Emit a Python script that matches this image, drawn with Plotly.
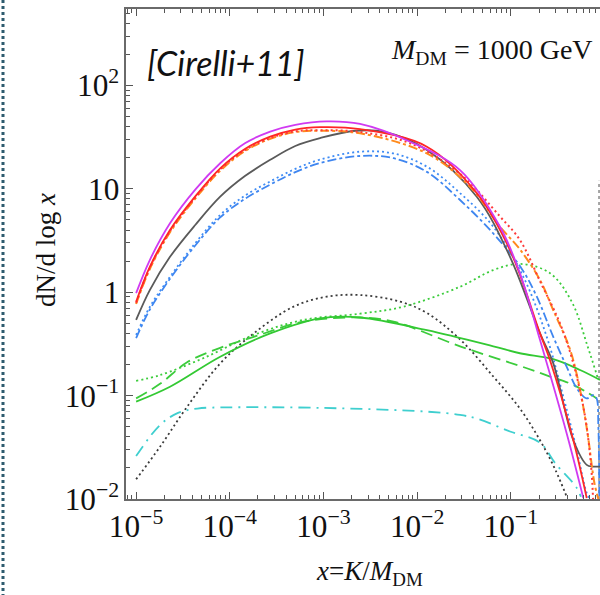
import plotly.graph_objects as go

# ---- data (x = K/M_DM, y = dN/dlog x) ----
mag_x = [1e-5, 1.4e-5, 2.3e-5, 4.3e-5, 7.9e-5, 1.45e-4, 2.7e-4, 5e-4, 1.08e-3, 2.46e-3, 8.4e-3, 0.0287, 0.0767, 0.125, 0.205, 0.395, 0.594]
mag_y = [0.98, 2.05, 4.65, 9.9, 17.7, 27.6, 35.8, 41.6, 45.0, 42.5, 28.6, 15.2, 4.3, 1.53, 0.345, 0.043, 0.0102]

red_x = [1e-5, 1.4e-5, 2.3e-5, 4.3e-5, 7.9e-5, 1.45e-4, 2.7e-4, 5e-4, 9.2e-4, 2.46e-3, 0.0127, 0.0433, 0.098, 0.205, 0.262, 0.465, 0.646]
red_y = [0.81, 1.76, 4.0, 8.5, 15.8, 24.3, 32.0, 37.5, 39.5, 37.8, 25.6, 9.1, 2.56, 0.40, 0.22, 0.037, 0.0102]

gray_x = [1e-5, 1.4e-5, 2.3e-5, 4.3e-5, 7.9e-5, 1.45e-4, 2.7e-4, 5e-4, 9.2e-4, 2.2e-3, 4.5e-3, 0.0127, 0.0433, 0.098, 0.205, 0.284, 0.465, 0.646, 0.75, 0.895]
gray_y = [0.54, 1.05, 2.2, 4.5, 8.4, 13.3, 19.1, 26.0, 31.0, 36.5, 35.5, 23.8, 8.4, 2.2, 0.40, 0.205, 0.037, 0.0214, 0.0206, 0.0206]

orange_x = [1e-5, 1.4e-5, 2.3e-5, 4.3e-5, 7.9e-5, 1.45e-4, 2.7e-4, 5e-4, 9.2e-4, 2.46e-3, 0.0127, 0.0367, 0.0767, 0.125, 0.205, 0.284, 0.43, 0.548, 0.66, 0.78, 0.86]
orange_y = [0.77, 1.68, 3.8, 8.1, 15.0, 23.2, 30.5, 35.5, 36.5, 34.5, 22.0, 10.5, 4.3, 2.6, 1.31, 0.67, 0.277, 0.114, 0.043, 0.0143, 0.0100]

rdot_x = [1e-5, 1.4e-5, 2.3e-5, 4.3e-5, 7.9e-5, 1.45e-4, 2.7e-4, 5e-4, 9.2e-4, 2.46e-3, 8.4e-3, 0.0287, 0.0767, 0.125, 0.21, 0.335, 0.465, 0.62, 0.72, 0.755]
rdot_y = [0.79, 1.72, 3.9, 8.3, 15.4, 23.7, 31.0, 36.0, 37.0, 35.5, 27.6, 14.0, 5.4, 3.2, 1.22, 0.50, 0.205, 0.063, 0.0206, 0.0100]

bdot_x = [1e-5, 1.4e-5, 2.3e-5, 4.3e-5, 7.9e-5, 1.45e-4, 2.7e-4, 5e-4, 9.2e-4, 2.46e-3, 5.6e-3, 0.0127, 0.0287, 0.065, 0.136, 0.242, 0.363, 0.505, 0.646, 0.70]
bdot_y = [0.386, 0.72, 1.41, 3.0, 5.6, 8.6, 11.8, 15.6, 19.2, 22.9, 22.0, 16.4, 9.1, 4.3, 1.41, 0.37, 0.098, 0.030, 0.0114, 0.0100]

bdash_x = [1e-5, 1.4e-5, 2.3e-5, 4.3e-5, 7.9e-5, 1.45e-4, 2.7e-4, 5e-4, 9.2e-4, 2.46e-3, 5.6e-3, 0.0127, 0.0287, 0.065, 0.13, 0.189, 0.284, 0.395, 0.505, 0.646, 0.754, 0.82, 0.86, 0.88]
bdash_y = [0.36, 0.68, 1.35, 2.85, 5.3, 8.0, 11.0, 14.5, 17.8, 20.8, 19.8, 14.6, 7.8, 3.7, 1.7, 0.91, 0.37, 0.19, 0.118, 0.094, 0.101, 0.095, 0.05, 0.01]

gdot_x = [1e-5, 1.8e-5, 5.2e-5, 1.8e-4, 6.1e-4, 2.46e-3, 7.1e-3, 0.0287, 0.065, 0.125, 0.262, 0.45, 0.66, 0.86]
gdot_y = [0.139, 0.158, 0.23, 0.386, 0.54, 0.62, 0.725, 1.13, 1.64, 1.88, 1.53, 0.80, 0.30, 0.142]

gsol_x = [1e-5, 2.3e-5, 7.9e-5, 2.7e-4, 9.2e-4, 2.46e-3, 0.0127, 0.065, 0.125, 0.284, 0.548, 0.895]
gsol_y = [0.0875, 0.122, 0.238, 0.40, 0.56, 0.57, 0.43, 0.30, 0.257, 0.225, 0.177, 0.142]

gdash_x = [1e-5, 1.8e-5, 3.5e-5, 7.9e-5, 1.8e-4, 6.1e-4, 2.46e-3, 5.6e-3, 0.0287, 0.148, 0.262, 0.465, 0.826]
gdash_y = [0.094, 0.13, 0.21, 0.29, 0.37, 0.52, 0.57, 0.52, 0.30, 0.184, 0.153, 0.127, 0.094]

kdot_x = [1e-5, 1.8e-5, 3.5e-5, 7.9e-5, 1.8e-4, 4.8e-4, 1.08e-3, 2.46e-3, 6.6e-3, 0.0127, 0.0287, 0.065, 0.125, 0.205, 0.30, 0.40]
kdot_y = [0.0155, 0.032, 0.078, 0.205, 0.40, 0.726, 0.906, 0.94, 0.81, 0.63, 0.35, 0.153, 0.075, 0.037, 0.019, 0.0102]

cyan_x = [1e-5, 1.8e-5, 2.8e-5, 4.5e-5, 1e-4, 1e-3, 0.0127, 0.0287, 0.0433, 0.098, 0.205, 0.30, 0.50, 0.56]
cyan_y = [0.026, 0.052, 0.068, 0.075, 0.077, 0.076, 0.070, 0.065, 0.060, 0.045, 0.035, 0.022, 0.013, 0.0105]

vline_x = [0.874, 0.874]
vline_y = [0.0100, 12.0]

fig = go.Figure()

def add(x, y, color, dash="solid", width=1.8):
    fig.add_trace(go.Scatter(x=x, y=y, mode="lines",
                             line=dict(color=color, dash=dash, width=width,
                                       shape="spline", smoothing=1.0),
                             showlegend=False, hoverinfo="skip"))

add(vline_x, vline_y, "#8a8a8a", "3px,3px", 1.5)
add(cyan_x, cyan_y, "#3fcfcf", "12px,6px,2px,6px")
add(kdot_x, kdot_y, "#3a3a3a", "2px,3px")
add(gdot_x, gdot_y, "#3ccc3c", "2px,3px")
add(gdash_x, gdash_y, "#3ccc3c", "12px,6px")
add(gsol_x, gsol_y, "#33c933", "solid")
add(bdash_x, bdash_y, "#3f86f0", "9px,3px,3px,3px")
add(bdot_x, bdot_y, "#3f8cf5", "2px,3px")
add(gray_x, gray_y, "#5a5a5a", "solid")
add(orange_x, orange_y, "#ff8a1c", "9px,3px,3px,3px", 2.0)
add(rdot_x, rdot_y, "#ff3a3a", "2px,3px", 2.0)
add(red_x, red_y, "#ff2626", "solid")
add(mag_x, mag_y, "#d03af2", "solid")

axis_font = dict(family="Liberation Serif", size=25, color="#111")

L, T, W, H = 126, 9, 474, 490

def px(xp):
    return (xp - L) / W

def py(yp):
    return 1 - (yp - T) / H

fig.update_xaxes(type="log", range=[-5.108, -0.048], dtick=1, exponentformat="power",
                 showline=True, linecolor="#6a6a6a", linewidth=1.5, mirror="ticks",
                 ticks="inside", ticklen=7, tickwidth=1, tickcolor="#555",
                 minor=dict(ticks="inside", ticklen=4, tickcolor="#555", dtick="D1", showgrid=False),
                 showgrid=False, zeroline=False, tickfont=axis_font, automargin=False)
fig.update_yaxes(type="log", range=[-2, 2.74], dtick=1, exponentformat="power",
                 showline=True, linecolor="#6a6a6a", linewidth=1.5, mirror=False,
                 ticks="inside", ticklen=7, tickwidth=1, tickcolor="#555",
                 minor=dict(ticks="inside", ticklen=4, tickcolor="#555", dtick="D1", showgrid=False),
                 showgrid=False, zeroline=False, tickfont=axis_font, automargin=False)

fig.update_layout(
    width=600, height=595,
    margin=dict(l=L, r=0, t=T, b=595 - T - H, autoexpand=False),
    paper_bgcolor="white", plot_bgcolor="white",
    annotations=[
        dict(text="<i>[Cirelli+11]</i>", xref="paper", yref="paper",
             x=px(145), y=py(63), xanchor="left", yanchor="middle",
             showarrow=False, font=dict(family="Lato", size=34, color="#111")),
        dict(text="<i>M</i><sub>DM</sub> = 1000 GeV", xref="paper", yref="paper",
             x=px(595), y=py(52), xanchor="right", yanchor="middle",
             showarrow=False, font=dict(family="Liberation Serif", size=28, color="#111")),
        dict(text="dN/d log <i>x</i>", xref="paper", yref="paper",
             x=px(46), y=py(250), xanchor="center", yanchor="middle", textangle=-90,
             showarrow=False, font=dict(family="Liberation Serif", size=27, color="#111")),
        dict(text="<i>x</i>=<i>K</i>/<i>M</i><sub>DM</sub>", xref="paper", yref="paper",
             x=px(369), y=py(573), xanchor="center", yanchor="middle",
             showarrow=False, font=dict(family="Liberation Serif", size=27, color="#111")),
    ],
    shapes=[
        dict(type="line", xref="paper", yref="paper",
             x0=px(3), x1=px(3), y0=py(0), y1=py(595),
             line=dict(color="#2d5b6e", width=3, dash="dot")),
    ],
)

fig.write_html("out.html", config={"displayModeBar": False},
               post_script="document.body.style.margin='0';document.body.style.padding='0';document.documentElement.style.overflow='hidden';")
